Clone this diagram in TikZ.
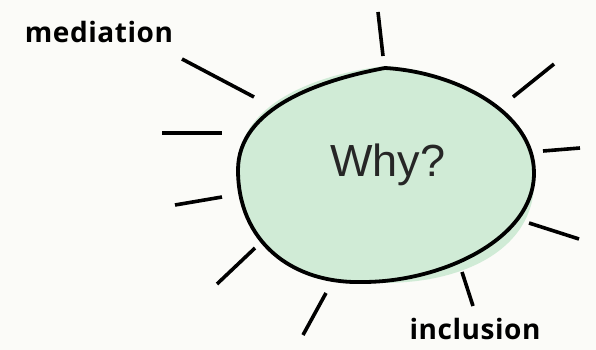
\documentclass[tikz,border=0pt]{standalone}
\usepackage{fontspec}
\setmainfont{Open Sans}
\newfontfamily\whyfont{Liberation Sans}
\definecolor{bgc}{HTML}{FBFBF8}
\definecolor{blob}{HTML}{D0EBD6}
\tikzset{
  tick/.style={draw=black,line width=3.6pt},
  outline/.style={draw=black,line width=3.8pt},
  lab/.style={font=\addfontfeature{LetterSpace=2}\fontsize{28}{32}\selectfont\bfseries,text=black,inner sep=0pt},
  why/.style={font=\whyfont\fontsize{45}{52}\selectfont,text=black!85,inner sep=0pt}
}
\begin{document}
\begin{tikzpicture}[x=1pt,y=-1pt]
\fill[bgc] (0,0) rectangle (596,350);
\useasboundingbox (0,0) rectangle (596,350);
\fill[blob] (385,66) .. controls (455,70) and (534,112) .. (534,173)
  .. controls (540,255) and (450,289) .. (363,282)
  .. controls (290,284) and (238,240) .. (238,170)
  .. controls (236,103) and (318,74) .. (385,66) -- cycle;
\draw[outline] (385,68) .. controls (455,72) and (534,112) .. (534,173)
  .. controls (534,240) and (440,282) .. (363,282)
  .. controls (290,284) and (238,240) .. (238,170)
  .. controls (238,108) and (320,80) .. (385,68) -- cycle;
\node[why] (whyq) at (388,165) {Why?};
\node[lab] (med) at (99,32) {mediation};
\node[lab] (inc) at (475,329) {inclusion};
\coordinate (a1) at (378,12); \coordinate (a2) at (383,56);
\coordinate (b1) at (182,59); \coordinate (b2) at (254,97);
\coordinate (c1) at (162,133); \coordinate (c2) at (222,133);
\coordinate (d1) at (175,205); \coordinate (d2) at (222,197);
\coordinate (e1) at (217,284); \coordinate (e2) at (255,248);
\coordinate (f1) at (303,335); \coordinate (f2) at (326,293);
\coordinate (g1) at (462,272); \coordinate (g2) at (473,306);
\coordinate (h1) at (529,223); \coordinate (h2) at (579,239);
\coordinate (i1) at (543,151); \coordinate (i2) at (580,148);
\coordinate (j1) at (513,97); \coordinate (j2) at (554,64);
\foreach \p/\q in {a1/a2,b1/b2,c1/c2,d1/d2,e1/e2,f1/f2,g1/g2,h1/h2,i1/i2,j1/j2} \draw[tick] (\p) -- (\q);
\end{tikzpicture}
\end{document}
